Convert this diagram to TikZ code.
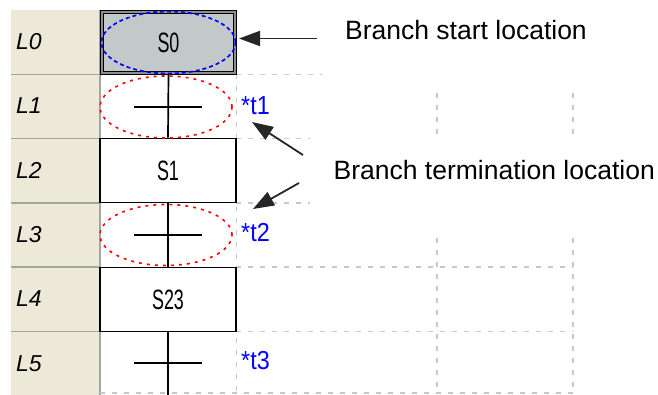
\documentclass[tikz,border=0pt]{standalone}
\usepackage{fontspec}
\setmainfont{Liberation Sans}
\newfontfamily\plcfont[FakeStretch=0.64]{Liberation Sans}
\newfontfamily\tagfont[FakeStretch=0.9]{Liberation Sans}
\usepackage{tikz}
\usetikzlibrary{arrows.meta}
\usepackage{xcolor}
\definecolor{rowbg}{HTML}{ECE9D8}
\definecolor{rowline}{HTML}{A5A49E}
\definecolor{gridgray}{HTML}{C8C8C8}
\definecolor{stepgray}{HTML}{C3C8C8}
\definecolor{bandgray}{HTML}{8E8E8E}
\definecolor{plcblue}{HTML}{0000FF}

\begin{document}
\begin{tikzpicture}[x=1pt, y=-1pt, >={Triangle[length=21pt,width=15pt]},
    stepbox/.style={draw=black, line width=1.4pt, fill=white, inner sep=0pt,
        minimum width=136pt, minimum height=64.5pt,
        font=\plcfont\fontsize{28}{30}\selectfont},
    initstep/.style={stepbox, fill=stepgray, line width=1pt, double=bandgray,
        double distance=1.8pt, minimum width=133.5pt, minimum height=61.5pt},
    rowlabel/.style={anchor=base west, inner sep=0pt, font=\itshape\fontsize{23}{26}\selectfont},
    trlabel/.style={anchor=base west, inner sep=0pt, text=plcblue, font=\tagfont\fontsize{26}{28}\selectfont},
    note/.style={anchor=base west, inner sep=0pt, font=\fontsize{26.5}{30}\selectfont},
    pointer/.style={->, line width=1.8pt, draw=black!85, fill=black},
    gridline/.style={draw=gridgray, line width=1.5pt, dash pattern=on 5pt off 7pt},
    branchstart/.style={draw=blue, line width=1.7pt, dash pattern=on 4pt off 3pt},
    branchend/.style={draw=red, line width=1.6pt, dash pattern=on 3pt off 5pt},
    spine/.style={line width=1.7pt}]
    \useasboundingbox (0,0) rectangle (658,395);

    % Row header column
    \fill[rowbg] (11,10) rectangle (100,395);
    \foreach \r in {1,...,5}
        \draw[rowline, line width=1.5pt] (11,{10+64.3*\r}) -- (100,{10+64.3*\r});
    \draw[rowline, line width=2pt] (100,10) -- (100,395);
    \foreach \r in {0,...,5}
        \node[rowlabel] (L\r) at (16,{49.5+64.3*\r}) {L\r};

    % Dashed grid
    \draw[gridline] (236.5,74.3) -- (236.5,393);
    \draw[gridline] (236,74.3) -- (322,74.3);
    \draw[gridline] (236,138.6) -- (310,138.6);
    \draw[gridline] (236,202.9) -- (310,202.9);
    \draw[gridline] (236,267.2) -- (573,267.2);
    \draw[gridline] (236,331.5) -- (573,331.5);
    \draw[gridline] (100,393) -- (573,393);
    \draw[gridline] (437,93) -- (437,136);
    \draw[gridline] (573,93) -- (573,136);
    \draw[gridline] (437,238) -- (437,393);
    \draw[gridline] (573,238) -- (573,393);

    % Steps
    \node[initstep] (S0) at (168.5,42.5) {S0};
    \node[stepbox] (S1) at (168,170.5) {S1};
    \node[stepbox] (S23) at (168,299.5) {S23};

    % Transitions
    \coordinate (t1) at (168,107);
    \coordinate (t2) at (168,235);
    \coordinate (t3) at (168,363);
    \coordinate (spineEnd) at (168,395);
    \draw[spine] (S0.south) -- (S1.north);
    \draw[spine] (S1.south) -- (S23.north);
    \draw[spine] (S23.south) -- (spineEnd);
    \foreach \t in {t1,t2,t3}
        \draw[spine] ([xshift=-34pt]\t) -- ([xshift=34pt]\t);
    \node[trlabel] (lab1) at (241,114.5) {*t1};
    \node[trlabel] (lab2) at (241,241) {*t2};
    \node[trlabel] (lab3) at (241,369.5) {*t3};

    % Branch marks
    \draw[branchstart] (S0.center) ellipse [x radius=67pt, y radius=31pt];
    \draw[branchend] ([xshift=-2pt]t1) ellipse [x radius=66pt, y radius=31pt];
    \draw[branchend] ([xshift=-2pt]t2) ellipse [x radius=66pt, y radius=30.5pt];

    % Notes
    \node[note] (startNote) at (345,39.3) {Branch start location};
    \node[note] (termNote) at (333.5,180) {Branch termination location};
    \coordinate (startTail) at (317,38.5);
    \coordinate (startTip) at (239,38.5);
    \coordinate (termTail1) at (303,155);
    \coordinate (termTip1) at (252,122);
    \coordinate (termTail2) at (299,183);
    \coordinate (termTip2) at (253,209);
    \draw[pointer] (startTail) -- (startTip);
    \draw[pointer] (termTail1) -- (termTip1);
    \draw[pointer] (termTail2) -- (termTip2);
\end{tikzpicture}
\end{document}
